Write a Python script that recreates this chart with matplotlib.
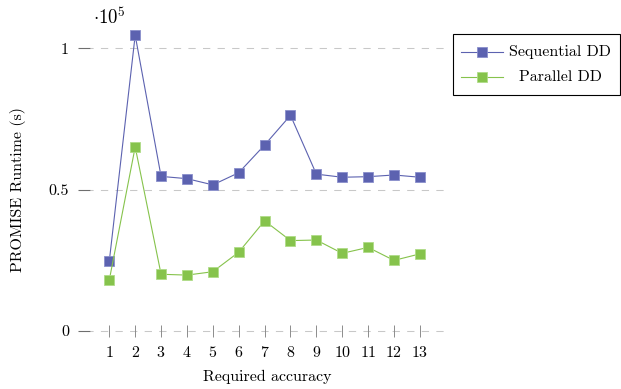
import matplotlib
matplotlib.use('Agg')
import matplotlib.pyplot as plt
from matplotlib.lines import Line2D
from matplotlib.patches import Rectangle

# runtimes per required accuracy level (seconds)
accuracy = [1, 2, 3, 4, 5, 6, 7, 8, 9, 10, 11, 12, 13]
sequential = [24800, 104600, 54700, 53900, 51700, 56000, 65800, 76300,
              55500, 54400, 54600, 55200, 54400]
parallel = [18100, 65100, 20100, 19800, 21000, 27900, 39000, 32000,
            32200, 27500, 29600, 25000, 27300]
yticks = [0, 50000, 100000]
ytick_labels = ['0', '0.5', '1']
series_names = ['Sequential DD', 'Parallel DD']

blue = '#5c62b0'
green = '#86c34c'
fs = 11.5

plt.rcParams['font.family'] = 'cmr10'
plt.rcParams['mathtext.fontset'] = 'cm'
plt.rcParams['axes.formatter.use_mathtext'] = True

fig = plt.figure(figsize=(6.21, 3.89), dpi=100)
W, H = 621, 389
ax = fig.add_axes([90 / W, 1 - 331.1 / H, (445 - 90) / W, 311.1 / H])

for y in yticks:
    ax.axhline(y, color='#c8c8c8', lw=0.75, ls=(4, (7, 7)), zorder=0,
               clip_on=False)

ax.plot(accuracy, sequential, color=blue, lw=0.8, marker='s', ms=7.5,
        mfc=blue, mec='#8a8fcc', mew=0.6, zorder=3)
ax.plot(accuracy, parallel, color=green, lw=0.8, marker='s', ms=7.5,
        mfc=green, mec='#b0dc88', mew=0.6, zorder=3)

ax.set_xlim(0.254, 13.97)
ax.set_ylim(0, 110000)
ax.set_xticks(accuracy)
ax.set_yticks(yticks)
ax.set_yticklabels(ytick_labels)
for s in ax.spines.values():
    s.set_visible(False)
ax.tick_params(axis='x', direction='inout', length=8, width=0.7,
               color='#8c8c8c', labelsize=fs, pad=6)
ax.tick_params(axis='y', direction='out', length=8.6, width=0.8,
               color='#6e6e6e', labelsize=fs, pad=6.5)

ax.set_xlabel('Required accuracy', fontsize=fs, labelpad=7)
fig.text(18 / W, 1 - 190 / H, 'PROMISE Runtime (s)', fontsize=fs,
         rotation=90, ha='center', va='center')
fig.text(109 / W, 1 - 18 / H, r'$\cdot 10^5$', fontsize=13.5,
         ha='center', va='center')

# legend box with centered entries
fig.patches.append(Rectangle((453 / W, 1 - 95 / H), 167 / W, 61 / H,
                             transform=fig.transFigure, fill=False,
                             ec='black', lw=0.8))
for name, col, mec, yp in [(series_names[0], blue, '#8a8fcc', 51.7),
                           (series_names[1], green, '#b0dc88', 76.7)]:
    fig.lines.append(Line2D([461 / W, 503 / W], [1 - yp / H] * 2,
                            transform=fig.transFigure, color=col, lw=0.8))
    fig.lines.append(Line2D([482 / W], [1 - yp / H], transform=fig.transFigure,
                            color=col, marker='s', ms=7.5, mfc=col,
                            mec=mec, mew=0.6, ls='none'))
    fig.text(560 / W, 1 - yp / H, name, fontsize=fs, ha='center', va='center')

fig.savefig('out.png', dpi=100)
